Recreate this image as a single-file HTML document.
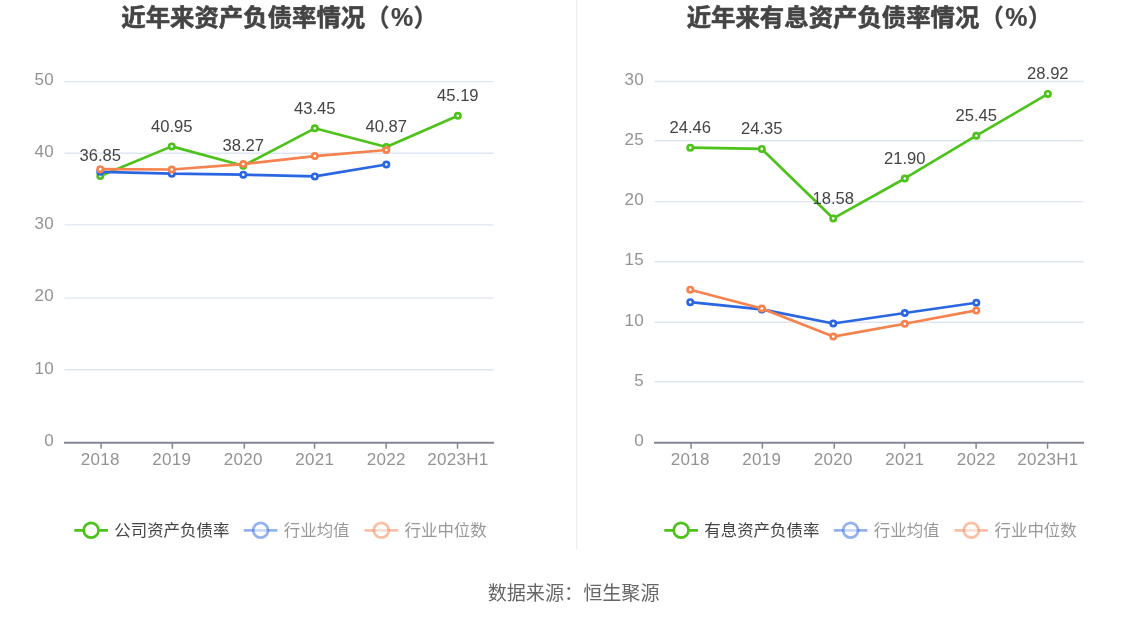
<!DOCTYPE html>
<html lang="zh-CN">
<head>
<meta charset="utf-8">
<title>近年来资产负债率情况</title>
<style>
html,body{margin:0;padding:0;background:#fff;}
body{width:1148px;height:619px;overflow:hidden;font-family:"Liberation Sans", "Noto Sans CJK SC", sans-serif;}
svg{display:block;font-family:"Liberation Sans", "Noto Sans CJK SC", sans-serif;filter:blur(0.35px);}
.ax{font-size:17px;letter-spacing:0.3px;}
.dl{font-size:16.6px;}
</style>
</head>
<body>
<svg width="1148" height="619" viewBox="0 0 1148 619">
<rect width="1148" height="619" fill="#ffffff"/>
<text x="121.3" y="26" font-size="24.4" font-weight="700" fill="#444444" stroke="#444444" stroke-width="0.6" stroke-linejoin="round">近年来资产负债率情况<tspan stroke-width="0.15">（</tspan><tspan dx="1.4" font-size="25" stroke-width="0.15">%</tspan><tspan dx="0.3" stroke-width="0.15">）</tspan></text>
<line x1="64.5" y1="81.60" x2="493.6" y2="81.60" stroke="#e0e6f1" stroke-width="1.4"/>
<line x1="64.5" y1="153.25" x2="493.6" y2="153.25" stroke="#e0e6f1" stroke-width="1.4"/>
<line x1="64.5" y1="224.90" x2="493.6" y2="224.90" stroke="#e0e6f1" stroke-width="1.4"/>
<line x1="64.5" y1="298.10" x2="493.6" y2="298.10" stroke="#e0e6f1" stroke-width="1.4"/>
<line x1="64.5" y1="369.70" x2="493.6" y2="369.70" stroke="#e0e6f1" stroke-width="1.4"/>
<text class="ax" x="54.0" y="84.70" text-anchor="end" fill="#939393">50</text>
<text class="ax" x="54.0" y="156.94" text-anchor="end" fill="#939393">40</text>
<text class="ax" x="54.0" y="229.18" text-anchor="end" fill="#939393">30</text>
<text class="ax" x="54.0" y="301.42" text-anchor="end" fill="#939393">20</text>
<text class="ax" x="54.0" y="373.66" text-anchor="end" fill="#939393">10</text>
<text class="ax" x="54.0" y="445.90" text-anchor="end" fill="#939393">0</text>
<line x1="64.0" y1="442.70" x2="494.1" y2="442.70" stroke="#858893" stroke-width="2.1"/>
<line x1="101.06" y1="442.70" x2="101.06" y2="448.70" stroke="#858893" stroke-width="1.5"/>
<text class="ax" x="100.26" y="464.6" text-anchor="middle" fill="#939393">2018</text>
<line x1="172.38" y1="442.70" x2="172.38" y2="448.70" stroke="#858893" stroke-width="1.5"/>
<text class="ax" x="171.78" y="464.6" text-anchor="middle" fill="#939393">2019</text>
<line x1="244.29" y1="442.70" x2="244.29" y2="448.70" stroke="#858893" stroke-width="1.5"/>
<text class="ax" x="243.29" y="464.6" text-anchor="middle" fill="#939393">2020</text>
<line x1="314.56" y1="442.70" x2="314.56" y2="448.70" stroke="#858893" stroke-width="1.5"/>
<text class="ax" x="314.81" y="464.6" text-anchor="middle" fill="#939393">2021</text>
<line x1="386.12" y1="442.70" x2="386.12" y2="448.70" stroke="#858893" stroke-width="1.5"/>
<text class="ax" x="386.32" y="464.6" text-anchor="middle" fill="#939393">2022</text>
<line x1="457.54" y1="442.70" x2="457.54" y2="448.70" stroke="#858893" stroke-width="1.5"/>
<text class="ax" x="457.84" y="464.6" text-anchor="middle" fill="#939393">2023H1</text>
<polyline points="100.26,176.00 171.78,146.38 243.29,165.74 314.81,128.32 386.32,146.96 457.84,115.75" fill="none" stroke="#4dc21b" stroke-width="2.67" stroke-linejoin="bevel"/>
<circle cx="100.26" cy="176.00" r="2.67" fill="#fff" stroke="#4dc21b" stroke-width="2.67"/>
<circle cx="171.78" cy="146.38" r="2.67" fill="#fff" stroke="#4dc21b" stroke-width="2.67"/>
<circle cx="243.29" cy="165.74" r="2.67" fill="#fff" stroke="#4dc21b" stroke-width="2.67"/>
<circle cx="314.81" cy="128.32" r="2.67" fill="#fff" stroke="#4dc21b" stroke-width="2.67"/>
<circle cx="386.32" cy="146.96" r="2.67" fill="#fff" stroke="#4dc21b" stroke-width="2.67"/>
<circle cx="457.84" cy="115.75" r="2.67" fill="#fff" stroke="#4dc21b" stroke-width="2.67"/>
<polyline points="100.26,171.80 171.78,173.70 243.29,174.70 314.81,176.40 386.32,164.50" fill="none" stroke="#2b66e2" stroke-width="2.67" stroke-linejoin="bevel"/>
<circle cx="100.26" cy="171.80" r="2.67" fill="#fff" stroke="#2b66e2" stroke-width="2.67"/>
<circle cx="171.78" cy="173.70" r="2.67" fill="#fff" stroke="#2b66e2" stroke-width="2.67"/>
<circle cx="243.29" cy="174.70" r="2.67" fill="#fff" stroke="#2b66e2" stroke-width="2.67"/>
<circle cx="314.81" cy="176.40" r="2.67" fill="#fff" stroke="#2b66e2" stroke-width="2.67"/>
<circle cx="386.32" cy="164.50" r="2.67" fill="#fff" stroke="#2b66e2" stroke-width="2.67"/>
<polyline points="100.26,169.20 171.78,169.50 243.29,164.10 314.81,156.10 386.32,150.00" fill="none" stroke="#f5824f" stroke-width="2.67" stroke-linejoin="bevel"/>
<circle cx="100.26" cy="169.20" r="2.67" fill="#fff" stroke="#f5824f" stroke-width="2.67"/>
<circle cx="171.78" cy="169.50" r="2.67" fill="#fff" stroke="#f5824f" stroke-width="2.67"/>
<circle cx="243.29" cy="164.10" r="2.67" fill="#fff" stroke="#f5824f" stroke-width="2.67"/>
<circle cx="314.81" cy="156.10" r="2.67" fill="#fff" stroke="#f5824f" stroke-width="2.67"/>
<circle cx="386.32" cy="150.00" r="2.67" fill="#fff" stroke="#f5824f" stroke-width="2.67"/>
<text class="dl" x="100.26" y="161.40" text-anchor="middle" fill="#444444">36.85</text>
<text class="dl" x="171.78" y="131.78" text-anchor="middle" fill="#444444">40.95</text>
<text class="dl" x="243.29" y="151.14" text-anchor="middle" fill="#444444">38.27</text>
<text class="dl" x="314.81" y="113.72" text-anchor="middle" fill="#444444">43.45</text>
<text class="dl" x="386.32" y="132.36" text-anchor="middle" fill="#444444">40.87</text>
<text class="dl" x="457.84" y="101.15" text-anchor="middle" fill="#444444">45.19</text>
<line x1="74.3" y1="530.3" x2="107.9" y2="530.3" stroke="#4dc21b" stroke-opacity="1.0" stroke-width="2.67"/>
<circle cx="91.1" cy="530.3" r="7.4" fill="#fff" fill-opacity="1.0" stroke="#4dc21b" stroke-opacity="1.0" stroke-width="2.67"/>
<text x="114.3" y="536.0" font-size="16.45" fill="#444444">公司资产负债率</text>
<line x1="243.8" y1="530.3" x2="277.4" y2="530.3" stroke="#2b66e2" stroke-opacity="0.5" stroke-width="2.67"/>
<circle cx="260.6" cy="530.3" r="7.4" fill="#fff" fill-opacity="0.5" stroke="#2b66e2" stroke-opacity="0.5" stroke-width="2.67"/>
<text x="283.8" y="536.0" font-size="16.45" fill="#999999">行业均值</text>
<line x1="364.5" y1="530.3" x2="398.1" y2="530.3" stroke="#f5824f" stroke-opacity="0.5" stroke-width="2.67"/>
<circle cx="381.3" cy="530.3" r="7.4" fill="#fff" fill-opacity="0.5" stroke="#f5824f" stroke-opacity="0.5" stroke-width="2.67"/>
<text x="404.5" y="536.0" font-size="16.45" fill="#999999">行业中位数</text>
<text x="686.7" y="26" font-size="24.4" font-weight="700" fill="#444444" stroke="#444444" stroke-width="0.6" stroke-linejoin="round">近年来有息资产负债率情况<tspan stroke-width="0.15">（</tspan><tspan dx="1.4" font-size="25" stroke-width="0.15">%</tspan><tspan dx="0.3" stroke-width="0.15">）</tspan></text>
<line x1="654.5" y1="81.50" x2="1083.6" y2="81.50" stroke="#e0e6f1" stroke-width="1.4"/>
<line x1="654.5" y1="140.80" x2="1083.6" y2="140.80" stroke="#e0e6f1" stroke-width="1.4"/>
<line x1="654.5" y1="201.60" x2="1083.6" y2="201.60" stroke="#e0e6f1" stroke-width="1.4"/>
<line x1="654.5" y1="261.70" x2="1083.6" y2="261.70" stroke="#e0e6f1" stroke-width="1.4"/>
<line x1="654.5" y1="322.20" x2="1083.6" y2="322.20" stroke="#e0e6f1" stroke-width="1.4"/>
<line x1="654.5" y1="381.80" x2="1083.6" y2="381.80" stroke="#e0e6f1" stroke-width="1.4"/>
<text class="ax" x="644.0" y="84.70" text-anchor="end" fill="#939393">30</text>
<text class="ax" x="644.0" y="144.90" text-anchor="end" fill="#939393">25</text>
<text class="ax" x="644.0" y="205.10" text-anchor="end" fill="#939393">20</text>
<text class="ax" x="644.0" y="265.30" text-anchor="end" fill="#939393">15</text>
<text class="ax" x="644.0" y="325.50" text-anchor="end" fill="#939393">10</text>
<text class="ax" x="644.0" y="385.70" text-anchor="end" fill="#939393">5</text>
<text class="ax" x="644.0" y="445.90" text-anchor="end" fill="#939393">0</text>
<line x1="654.0" y1="442.70" x2="1084.1" y2="442.70" stroke="#858893" stroke-width="2.1"/>
<line x1="691.06" y1="442.70" x2="691.06" y2="448.70" stroke="#858893" stroke-width="1.5"/>
<text class="ax" x="690.26" y="464.6" text-anchor="middle" fill="#939393">2018</text>
<line x1="762.38" y1="442.70" x2="762.38" y2="448.70" stroke="#858893" stroke-width="1.5"/>
<text class="ax" x="761.77" y="464.6" text-anchor="middle" fill="#939393">2019</text>
<line x1="834.29" y1="442.70" x2="834.29" y2="448.70" stroke="#858893" stroke-width="1.5"/>
<text class="ax" x="833.29" y="464.6" text-anchor="middle" fill="#939393">2020</text>
<line x1="904.56" y1="442.70" x2="904.56" y2="448.70" stroke="#858893" stroke-width="1.5"/>
<text class="ax" x="904.81" y="464.6" text-anchor="middle" fill="#939393">2021</text>
<line x1="976.12" y1="442.70" x2="976.12" y2="448.70" stroke="#858893" stroke-width="1.5"/>
<text class="ax" x="976.32" y="464.6" text-anchor="middle" fill="#939393">2022</text>
<line x1="1047.54" y1="442.70" x2="1047.54" y2="448.70" stroke="#858893" stroke-width="1.5"/>
<text class="ax" x="1047.84" y="464.6" text-anchor="middle" fill="#939393">2023H1</text>
<polyline points="690.26,147.63 761.77,148.95 833.29,218.44 904.81,178.46 976.32,135.71 1047.84,93.92" fill="none" stroke="#4dc21b" stroke-width="2.67" stroke-linejoin="bevel"/>
<circle cx="690.26" cy="147.63" r="2.67" fill="#fff" stroke="#4dc21b" stroke-width="2.67"/>
<circle cx="761.77" cy="148.95" r="2.67" fill="#fff" stroke="#4dc21b" stroke-width="2.67"/>
<circle cx="833.29" cy="218.44" r="2.67" fill="#fff" stroke="#4dc21b" stroke-width="2.67"/>
<circle cx="904.81" cy="178.46" r="2.67" fill="#fff" stroke="#4dc21b" stroke-width="2.67"/>
<circle cx="976.32" cy="135.71" r="2.67" fill="#fff" stroke="#4dc21b" stroke-width="2.67"/>
<circle cx="1047.84" cy="93.92" r="2.67" fill="#fff" stroke="#4dc21b" stroke-width="2.67"/>
<polyline points="690.26,302.20 761.77,309.40 833.29,323.50 904.81,313.00 976.32,302.75" fill="none" stroke="#2b66e2" stroke-width="2.67" stroke-linejoin="bevel"/>
<circle cx="690.26" cy="302.20" r="2.67" fill="#fff" stroke="#2b66e2" stroke-width="2.67"/>
<circle cx="761.77" cy="309.40" r="2.67" fill="#fff" stroke="#2b66e2" stroke-width="2.67"/>
<circle cx="833.29" cy="323.50" r="2.67" fill="#fff" stroke="#2b66e2" stroke-width="2.67"/>
<circle cx="904.81" cy="313.00" r="2.67" fill="#fff" stroke="#2b66e2" stroke-width="2.67"/>
<circle cx="976.32" cy="302.75" r="2.67" fill="#fff" stroke="#2b66e2" stroke-width="2.67"/>
<polyline points="690.26,289.70 761.77,308.50 833.29,336.60 904.81,323.80 976.32,310.40" fill="none" stroke="#f5824f" stroke-width="2.67" stroke-linejoin="bevel"/>
<circle cx="690.26" cy="289.70" r="2.67" fill="#fff" stroke="#f5824f" stroke-width="2.67"/>
<circle cx="761.77" cy="308.50" r="2.67" fill="#fff" stroke="#f5824f" stroke-width="2.67"/>
<circle cx="833.29" cy="336.60" r="2.67" fill="#fff" stroke="#f5824f" stroke-width="2.67"/>
<circle cx="904.81" cy="323.80" r="2.67" fill="#fff" stroke="#f5824f" stroke-width="2.67"/>
<circle cx="976.32" cy="310.40" r="2.67" fill="#fff" stroke="#f5824f" stroke-width="2.67"/>
<text class="dl" x="690.26" y="133.03" text-anchor="middle" fill="#444444">24.46</text>
<text class="dl" x="761.77" y="134.35" text-anchor="middle" fill="#444444">24.35</text>
<text class="dl" x="833.29" y="203.84" text-anchor="middle" fill="#444444">18.58</text>
<text class="dl" x="904.81" y="163.86" text-anchor="middle" fill="#444444">21.90</text>
<text class="dl" x="976.32" y="121.11" text-anchor="middle" fill="#444444">25.45</text>
<text class="dl" x="1047.84" y="79.32" text-anchor="middle" fill="#444444">28.92</text>
<line x1="664.3" y1="530.3" x2="697.9" y2="530.3" stroke="#4dc21b" stroke-opacity="1.0" stroke-width="2.67"/>
<circle cx="681.1" cy="530.3" r="7.4" fill="#fff" fill-opacity="1.0" stroke="#4dc21b" stroke-opacity="1.0" stroke-width="2.67"/>
<text x="704.3" y="536.0" font-size="16.45" fill="#444444">有息资产负债率</text>
<line x1="833.8" y1="530.3" x2="867.4" y2="530.3" stroke="#2b66e2" stroke-opacity="0.5" stroke-width="2.67"/>
<circle cx="850.6" cy="530.3" r="7.4" fill="#fff" fill-opacity="0.5" stroke="#2b66e2" stroke-opacity="0.5" stroke-width="2.67"/>
<text x="873.8" y="536.0" font-size="16.45" fill="#999999">行业均值</text>
<line x1="954.5" y1="530.3" x2="988.1" y2="530.3" stroke="#f5824f" stroke-opacity="0.5" stroke-width="2.67"/>
<circle cx="971.3" cy="530.3" r="7.4" fill="#fff" fill-opacity="0.5" stroke="#f5824f" stroke-opacity="0.5" stroke-width="2.67"/>
<text x="994.5" y="536.0" font-size="16.45" fill="#999999">行业中位数</text>
<line x1="576.6" y1="0" x2="576.6" y2="549.4" stroke="#eeeeee" stroke-width="1.3"/>
<text x="573.6" y="599.5" text-anchor="middle" font-size="19.1" fill="#666666">数据来源：恒生聚源</text>
</svg>
</body>
</html>
